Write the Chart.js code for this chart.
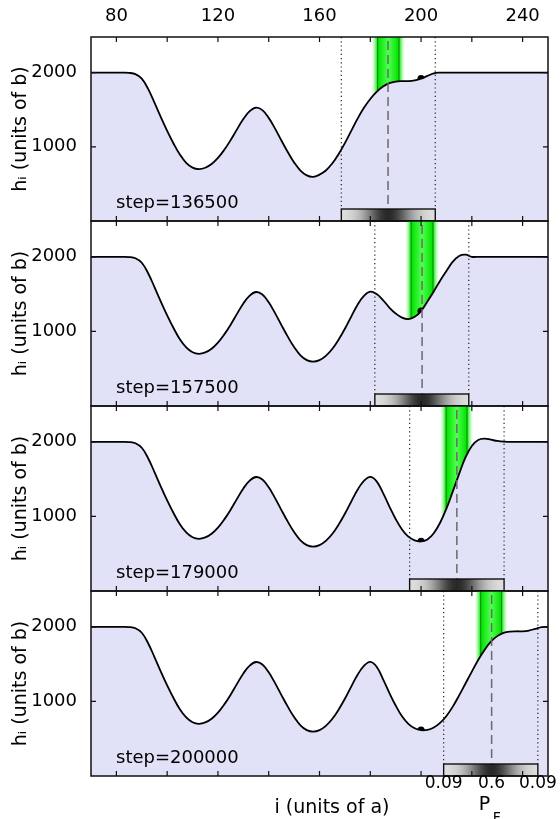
<!DOCTYPE html>
<html>
<head>
<meta charset="utf-8">
<script src="https://cdn.jsdelivr.net/npm/chart.js@4.4.1/dist/chart.umd.min.js"></script>
<style>
  html, body { margin: 0; padding: 0; background: #fff; }
  #wrap { position: relative; width: 560px; height: 819px; overflow: hidden; }
  #wrap canvas { position: absolute; left: 0; top: 0; }
</style>
</head>
<body>
<div id="wrap">
  <canvas id="p0" width="560" height="819"></canvas>
  <canvas id="p1" width="560" height="819"></canvas>
  <canvas id="p2" width="560" height="819"></canvas>
  <canvas id="p3" width="560" height="819"></canvas>
</div>
<script>
// site index i (units of a)
const pos = [70, 72.5, 75, 77.5, 80, 82.5, 85, 87.5, 90, 92.5, 95, 97.5, 100, 102.5, 105, 107.5,
  110, 112.5, 115, 117.5, 120, 122.5, 125, 127.5, 130, 132.5, 135, 137.5, 140, 142.5, 145, 147.5,
  150, 152.5, 155, 157.5, 160, 162.5, 165, 167.5, 170, 172.5, 175, 177.5, 180, 182.5, 185, 187.5,
  190, 192.5, 195, 197.5, 200, 202.5, 205, 207.5, 210, 212.5, 215, 217.5, 220, 222.5, 225, 227.5,
  230, 232.5, 235, 237.5, 240, 242.5, 245, 247.5, 250];

// h_i for i = 70 .. 157.5 (same in every panel)
const hCommon = [2000, 2000, 2000, 2000, 2000, 2000, 1997, 1980, 1920, 1780, 1595, 1400, 1215, 1045,
  895, 785, 720, 700, 718, 768, 850, 960, 1090, 1235, 1375, 1480, 1528, 1495, 1390, 1245, 1085, 930,
  790, 680, 615, 595];

// h_i for i = 160 .. 250, one per panel
const hTail1 = [625, 680, 775, 900, 1050, 1215, 1380, 1525, 1645, 1740, 1812, 1858, 1880, 1886, 1885,
  1895, 1918, 1955, 1990, 2000, 2000, 2000, 2000, 2000, 2000, 2000, 2000, 2000, 2000, 2000, 2000,
  2000, 2000, 2000, 2000, 2000, 2000];
const hTail2 = [615, 672, 764, 888, 1035, 1199, 1357, 1476, 1533, 1500, 1420, 1320, 1240, 1185, 1165,
  1195, 1272, 1400, 1535, 1680, 1810, 1935, 2012, 2030, 2000, 2000, 2000, 2000, 2000, 2000, 2000,
  2000, 2000, 2000, 2000, 2000, 2000];
const hTail3 = [615, 672, 764, 888, 1035, 1199, 1357, 1476, 1530, 1470, 1315, 1135, 965, 825, 728,
  678, 664, 692, 775, 915, 1105, 1335, 1570, 1790, 1945, 2025, 2042, 2028, 2012, 2002, 2000, 2000,
  2000, 2000, 2000, 2000, 2000];
const hTail4 = [615, 672, 764, 888, 1035, 1199, 1357, 1476, 1530, 1465, 1300, 1115, 945, 800, 700,
  640, 614, 618, 650, 712, 805, 930, 1080, 1240, 1400, 1555, 1690, 1800, 1875, 1918, 1936, 1940,
  1940, 1950, 1972, 1995, 2000];

const stepLabels = ['step=136500', 'step=157500', 'step=179000', 'step=200000'];
const markerX = 200;
const winLeft = [168.6, 181.8, 195.5, 208.9];
const winRight = [205.6, 218.8, 232.7, 246.0];
const peakPos = [187.0, 200.4, 214.1, 227.8];
const bandLeft = [182.9, 196.1, 209.9, 223.5];
const bandRight = [191.3, 204.7, 218.1, 231.7];

const topTicks = [80, 120, 160, 200, 240];
const tickMarks = [80, 100, 120, 140, 160, 180, 200, 220, 240];
const yTicks = [1000, 2000];
const pfLabels = ['0.09', '0.6', '0.09'];

const tails = [hTail1, hTail2, hTail3, hTail4];
const panelTop = [37, 221, 406, 591];
const panelBottom = [221, 406, 591, 776];
const FONT = 'DejaVu Sans';

function makeDecor(k) {
  return {
    id: 'decor' + k,
    beforeDatasetsDraw(chart) {
      const {ctx, chartArea: a, scales: {x}} = chart;
      const xl = x.getPixelForValue(bandLeft[k]);
      const xr = x.getPixelForValue(bandRight[k]);
      const g = 6, w = xr - xl + 2 * g;
      ctx.save();
      ctx.beginPath();
      ctx.rect(a.left, a.top, a.width, a.height);
      ctx.clip();
      const grd = ctx.createLinearGradient(xl - g, 0, xr + g, 0);
      grd.addColorStop(0, 'rgba(140,255,140,0)');
      grd.addColorStop(g / w, 'rgb(0,225,0)');
      grd.addColorStop(0.5, 'rgb(80,255,80)');
      grd.addColorStop(1 - g / w, 'rgb(0,225,0)');
      grd.addColorStop(1, 'rgba(140,255,140,0)');
      ctx.fillStyle = grd;
      ctx.fillRect(xl - g, a.top, w, a.height);
      ctx.strokeStyle = '#0a8a0a';
      ctx.lineWidth = 1;
      [xl, xr].forEach(px => {
        ctx.beginPath();
        ctx.moveTo(px, a.top);
        ctx.lineTo(px, a.bottom);
        ctx.stroke();
      });
      ctx.restore();
    },
    afterDatasetDraw(chart, args) {
      if (args.index !== 0) return;
      const {ctx, chartArea: a, scales: {x}} = chart;
      const bx0 = x.getPixelForValue(winLeft[k]);
      const bx1 = x.getPixelForValue(winRight[k]);
      const bc = x.getPixelForValue(peakPos[k]);
      const by0 = a.bottom - 12;
      ctx.save();
      // window edges
      ctx.strokeStyle = '#222';
      ctx.lineWidth = 1.2;
      ctx.setLineDash([1.2, 3]);
      [bx0, bx1].forEach(px => {
        ctx.beginPath();
        ctx.moveTo(px, a.top);
        ctx.lineTo(px, by0);
        ctx.stroke();
      });
      // peak position
      ctx.strokeStyle = '#6a6a6a';
      ctx.lineWidth = 1.5;
      ctx.setLineDash([9, 5]);
      ctx.beginPath();
      ctx.moveTo(bc, a.top + 4);
      ctx.lineTo(bc, by0);
      ctx.stroke();
      ctx.setLineDash([]);
      // P_F bar
      const grd = ctx.createLinearGradient(bx0, 0, bx1, 0);
      const half = (bx1 - bx0) / 2;
      for (let i = 0; i <= 24; i++) {
        const t = i / 24;
        const d = (bx0 + t * (bx1 - bx0) - bc) / half;
        const p = Math.exp(-4 * d * d);
        const gl = Math.round(226 - 186 * p);
        grd.addColorStop(t, `rgb(${gl},${gl},${gl})`);
      }
      ctx.fillStyle = grd;
      ctx.fillRect(bx0, by0, bx1 - bx0, a.bottom - by0);
      ctx.strokeStyle = '#111';
      ctx.lineWidth = 1.4;
      ctx.strokeRect(bx0, by0, bx1 - bx0, a.bottom - by0);
      ctx.restore();
    },
    afterDraw(chart) {
      const {ctx, chartArea: a, scales: {x, y}} = chart;
      ctx.save();
      ctx.strokeStyle = '#111';
      ctx.lineWidth = 1.2;
      tickMarks.forEach(v => {
        const px = x.getPixelForValue(v);
        ctx.beginPath();
        ctx.moveTo(px, a.top); ctx.lineTo(px, a.top + 5);
        ctx.moveTo(px, a.bottom); ctx.lineTo(px, a.bottom - 5);
        ctx.stroke();
      });
      yTicks.forEach(v => {
        const py = y.getPixelForValue(v);
        ctx.beginPath();
        ctx.moveTo(a.left, py); ctx.lineTo(a.left + 5, py);
        ctx.moveTo(a.right, py); ctx.lineTo(a.right - 5, py);
        ctx.stroke();
      });
      ctx.lineWidth = 1.5;
      ctx.strokeRect(a.left, a.top, a.width, a.height);

      ctx.fillStyle = '#000';
      ctx.font = '18px "' + FONT + '"';
      ctx.textAlign = 'left';
      ctx.textBaseline = 'alphabetic';
      ctx.fillText(stepLabels[k], a.left + 25, a.bottom - 13);

      if (k === 3) {
        const px = [winLeft[k], peakPos[k], winRight[k]].map(v => x.getPixelForValue(v));
        ctx.font = '17px "' + FONT + '"';
        ctx.textAlign = 'center';
        ctx.textBaseline = 'middle';
        pfLabels.forEach((t, i) => ctx.fillText(t, px[i], 784));
        ctx.font = '19px "' + FONT + '"';
        ctx.fillText('i (units of a)', 332, 808);
        ctx.textAlign = 'left';
        ctx.textBaseline = 'alphabetic';
        ctx.fillText('P', px[1] - 13, 810);
        ctx.font = '14px "' + FONT + '"';
        ctx.fillText('F', px[1] + 1, 822);
      }
      ctx.restore();
    }
  };
}

for (let k = 0; k < 4; k++) {
  const h = hCommon.concat(tails[k]);
  const curve = pos.map((v, i) => ({x: v, y: h[i]}));
  const dot = [{x: markerX, y: h[pos.indexOf(markerX)]}];
  new Chart(document.getElementById('p' + k), {
    type: 'line',
    data: {
      datasets: [{
        data: curve,
        borderColor: '#000',
        borderWidth: 1.8,
        backgroundColor: '#e1e1f8',
        fill: 'origin',
        pointRadius: 0,
        tension: 0.4
      }, {
        data: dot,
        showLine: false,
        pointRadius: 3.6,
        pointBackgroundColor: '#000',
        pointBorderWidth: 0
      }]
    },
    options: {
      responsive: false,
      animation: false,
      devicePixelRatio: 1,
      layout: {
        padding: {left: 0, right: 12, top: k === 0 ? 0 : panelTop[k], bottom: 819 - panelBottom[k]}
      },
      plugins: {legend: {display: false}, tooltip: {enabled: false}},
      scales: {
        x: {
          type: 'linear',
          position: 'top',
          display: k === 0,
          min: 70,
          max: 250,
          grid: {display: false},
          border: {display: false},
          ticks: {
            autoSkip: false,
            maxRotation: 0,
            padding: 2,
            color: '#000',
            font: {family: FONT, size: 18}
          },
          afterBuildTicks: s => { s.ticks = topTicks.map(v => ({value: v})); },
          afterFit: s => { if (k === 0) s.height = 37; }
        },
        y: {
          min: 0,
          max: 2480,
          grid: {display: false},
          border: {display: false},
          ticks: {
            padding: 6,
            color: '#000',
            font: {family: FONT, size: 18},
            callback: v => String(v)
          },
          afterBuildTicks: s => { s.ticks = yTicks.map(v => ({value: v})); },
          afterFit: s => { s.width = 91; },
          title: {
            display: true,
            text: 'hᵢ (units of b)',
            color: '#000',
            font: {family: FONT, size: 19},
            padding: {top: 10, bottom: 0}
          }
        }
      }
    },
    plugins: [makeDecor(k)]
  });
}
</script>
</body>
</html>
